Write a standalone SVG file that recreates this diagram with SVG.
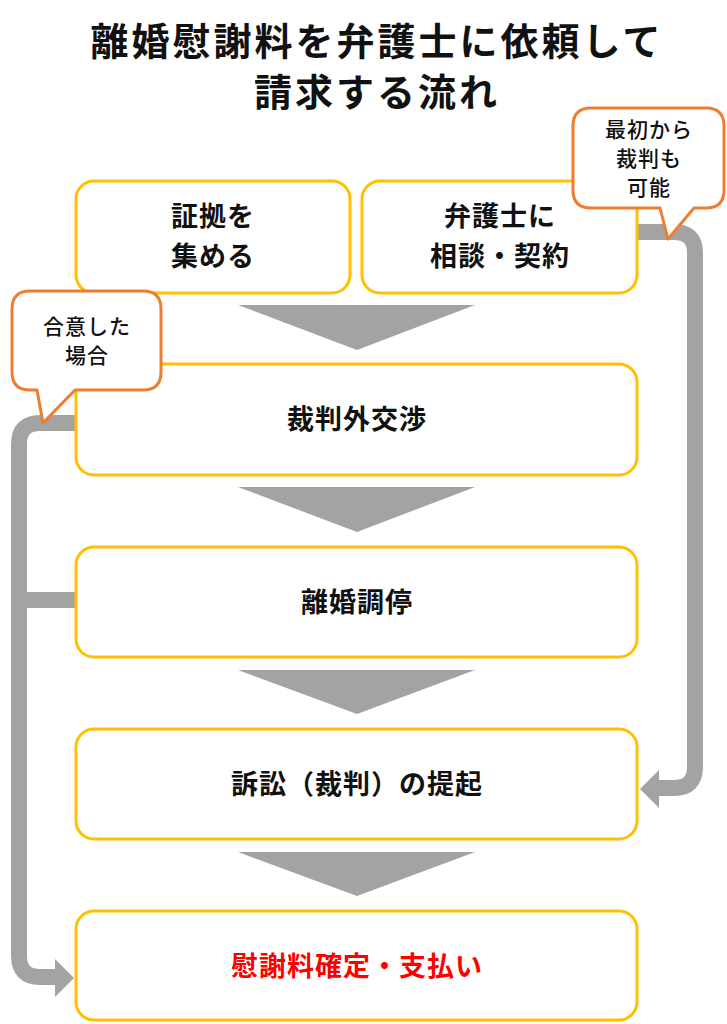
<svg xmlns="http://www.w3.org/2000/svg" width="727" height="1024" viewBox="0 0 727 1024">
<style>
text{font-family:"Noto Sans CJK JP",sans-serif;font-weight:bold;text-anchor:middle;fill:#111}
.box{fill:#fff;stroke:#FFC000;stroke-width:3}
.tri{fill:#A5A2A2}
.con{fill:none;stroke:#A5A2A2;stroke-width:16;stroke-linejoin:round}
.ah{fill:#A5A2A2}
.call{fill:#fff;stroke:#ED7D31;stroke-width:3;stroke-linejoin:round}
.t{font-size:27px;letter-spacing:1px}
.c{font-size:21px;font-weight:500;letter-spacing:1px}
</style>
<rect width="727" height="1024" fill="#fff"/>
<text x="377" y="55" font-size="38" letter-spacing="3">離婚慰謝料を弁護士に依頼して</text>
<text x="377" y="106" font-size="38" letter-spacing="3">請求する流れ</text>
<g id="connectors">
<path class="con" d="M76,423 H40 Q19,423 19,444 V956 Q19,977 40,977 H58"/>
<path class="con" d="M76,600 H19"/>
<polygon class="ah" points="55,959 74,978 55,997"/>
<path class="con" d="M637,232 H674 Q695,232 695,253 V767 Q695,788 674,788 H656"/>
<polygon class="ah" points="659,770 640,789 659,808"/>
</g>
<g id="tris">
<polygon class="tri" points="238,305 475,305 357,350"/>
<polygon class="tri" points="238,487 475,487 357,532"/>
<polygon class="tri" points="238,670 475,670 357,714"/>
<polygon class="tri" points="238,852 475,852 357,896"/>
</g>
<g id="n1"><rect class="box" x="76" y="181" width="274" height="112" rx="18"/><text class="t" x="213" y="226">証拠を</text><text class="t" x="213" y="266">集める</text></g>
<g id="n2"><rect class="box" x="362" y="181" width="275" height="112" rx="18"/><text class="t" x="500" y="226">弁護士に</text><text class="t" x="500" y="266">相談・契約</text></g>
<g id="n3"><rect class="box" x="76" y="364" width="561" height="111" rx="18"/><text class="t" x="357" y="429">裁判外交渉</text></g>
<g id="n4"><rect class="box" x="76" y="547" width="561" height="110" rx="18"/><text class="t" x="357" y="612">離婚調停</text></g>
<g id="n5"><rect class="box" x="76" y="729" width="561" height="110" rx="18"/><text class="t" x="357" y="794">訴訟（裁判）の提起</text></g>
<g id="n6"><rect class="box" x="76" y="911" width="561" height="109" rx="18"/><text class="t" x="357" y="976" style="fill:#FF0000">慰謝料確定・支払い</text></g>
<g id="callout1"><path class="call" d="M591,108 H706 Q724,108 724,126 V190 Q724,208 706,208 H694 L668,239 L660,208 H591 Q573,208 573,190 V126 Q573,108 591,108 Z"/><text class="c" x="649" y="137">最初から</text><text class="c" x="649" y="166">裁判も</text><text class="c" x="649" y="195">可能</text></g>
<g id="callout2"><path class="call" d="M30,291 H143 Q161,291 161,309 V372 Q161,390 143,390 H75 L43,423 L37,390 H30 Q12,390 12,372 V309 Q12,291 30,291 Z"/><text class="c" x="87" y="334">合意した</text><text class="c" x="87" y="363">場合</text></g>
</svg>
